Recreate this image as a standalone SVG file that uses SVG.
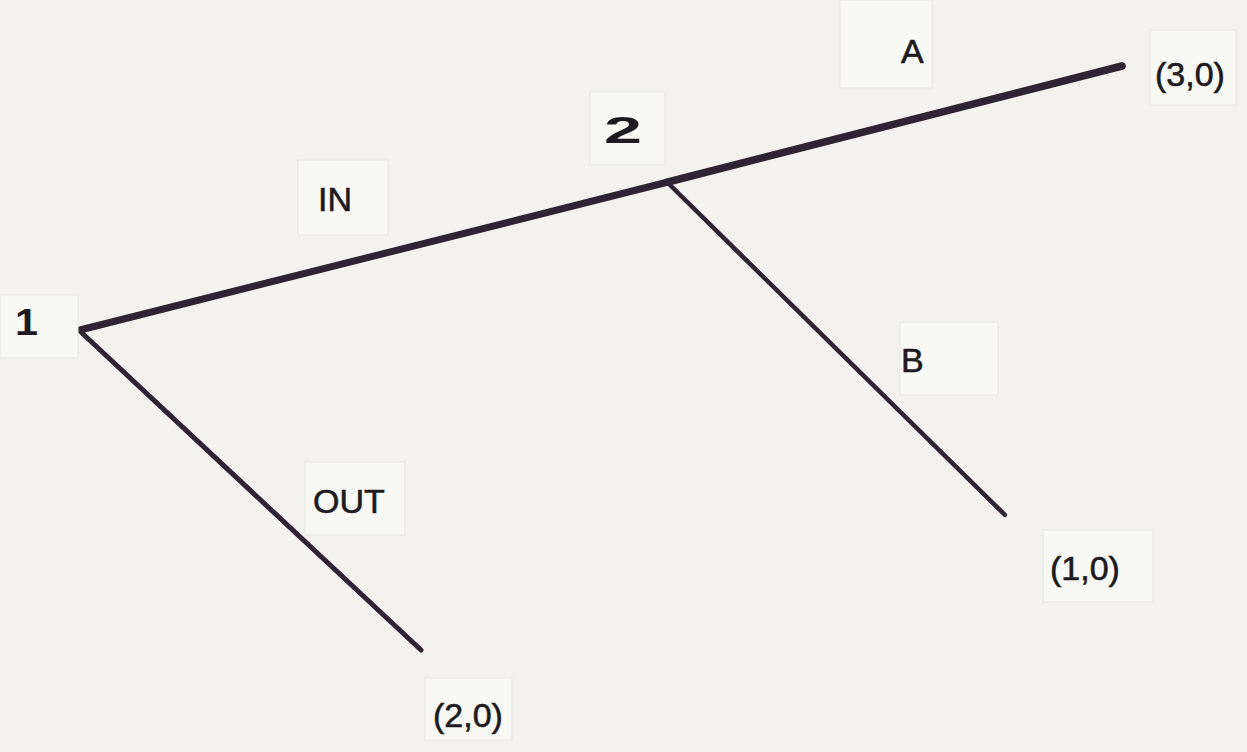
<svg xmlns="http://www.w3.org/2000/svg" width="1247" height="752" viewBox="0 0 1247 752">
<style>
.bg{fill:#f3f2ee}
.box{fill:#f8f8f5;stroke:#e8e7e1;stroke-width:1}
.lbl{font-family:"Liberation Sans",Arial,sans-serif;font-size:34px;fill:#1d1a20;stroke:#1d1a20;stroke-width:0.6}
.num{font-family:"Liberation Sans",Arial,sans-serif;font-size:36px;font-weight:bold;fill:#1d1a20}
.edge{stroke:#2f2433;fill:none;stroke-linecap:round}
</style>
<rect class="bg" x="0" y="0" width="1247" height="752"/>
<g id="connectors">
<line class="edge" x1="80" y1="330" x2="668" y2="182" stroke-width="7"/>
<line class="edge" x1="668" y1="182" x2="1122" y2="66" stroke-width="7.5"/>
<line class="edge" x1="669" y1="184" x2="1005" y2="515" stroke-width="4.5"/>
<line class="edge" x1="82" y1="333" x2="421" y2="650" stroke-width="5"/>
</g>
<g id="node1">
<rect class="box" x="0" y="295" width="78" height="63"/>
<text class="num" x="15" y="335" textLength="23" lengthAdjust="spacingAndGlyphs">1</text>
</g>
<g id="node2">
<rect class="box" x="590" y="92" width="75" height="73"/>
<text class="num" x="604" y="143" textLength="38" lengthAdjust="spacingAndGlyphs">2</text>
</g>
<g id="label-IN">
<rect class="box" x="298" y="160" width="90" height="75"/>
<text class="lbl" x="318" y="211">IN</text>
</g>
<g id="label-A">
<rect class="box" x="840" y="0" width="92" height="88"/>
<text class="lbl" x="901" y="63">A</text>
</g>
<g id="label-B">
<rect class="box" x="900" y="322" width="98" height="73"/>
<text class="lbl" x="901" y="372">B</text>
</g>
<g id="label-OUT">
<rect class="box" x="305" y="462" width="100" height="73"/>
<text class="lbl" x="313" y="513">OUT</text>
</g>
<g id="payoff-3-0">
<rect class="box" x="1150" y="30" width="86" height="75"/>
<text class="lbl" x="1155" y="86">(3,0)</text>
</g>
<g id="payoff-1-0">
<rect class="box" x="1043" y="530" width="110" height="72"/>
<text class="lbl" x="1050" y="580">(1,0)</text>
</g>
<g id="payoff-2-0">
<rect class="box" x="425" y="678" width="87" height="62"/>
<text class="lbl" x="433" y="727">(2,0)</text>
</g>
</svg>
